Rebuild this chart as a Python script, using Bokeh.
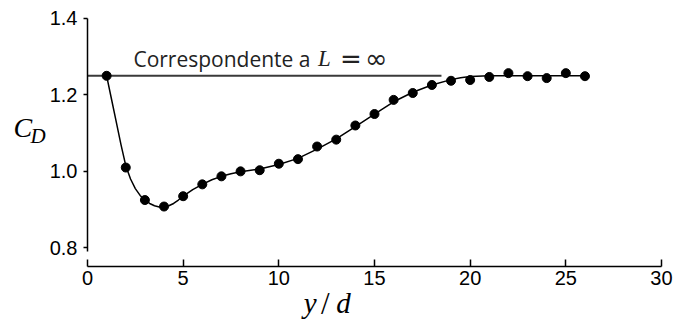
from bokeh.plotting import figure
from bokeh.models import Range1d, Label, FixedTicker, PrintfTickFormatter
from bokeh.embed import file_html
from bokeh.resources import INLINE

# measured points (y/d, C_D)
pts_x = [1, 2, 3, 4, 5, 6, 7, 8, 9, 10, 11, 12, 13, 14, 15, 16, 17, 18, 19, 20, 21, 22, 23, 24, 25, 26]
pts_y = [1.25, 1.01, 0.925, 0.908, 0.935, 0.966, 0.987, 1.0, 1.003, 1.02, 1.032, 1.065, 1.083, 1.12, 1.15,
         1.187, 1.205, 1.226, 1.237, 1.239, 1.247, 1.257, 1.249, 1.244, 1.257, 1.249]

# faired curve
curve_x = [1, 1.25, 1.5, 1.75, 2, 2.25, 2.5, 2.75, 3, 3.25, 3.5, 3.75, 4, 4.25, 4.5, 4.75, 5, 5.5, 6, 6.5, 7, 7.5, 8,
           9, 10, 11, 12, 13, 14, 15, 16, 17, 18, 19, 19.5, 20, 21, 22, 23, 24, 25, 26]
curve_y = [1.25, 1.19, 1.13, 1.07, 1.015, 0.98, 0.955, 0.937, 0.925, 0.916, 0.91, 0.907, 0.907, 0.91, 0.916, 0.925,
           0.935, 0.952, 0.966, 0.978, 0.987, 0.994, 0.999, 1.006, 1.018, 1.034, 1.058, 1.085, 1.117, 1.15, 1.182,
           1.207, 1.226, 1.24, 1.245, 1.248, 1.25, 1.25, 1.25, 1.25, 1.25, 1.25]

# reference level (L = infinity)
ref_x = [0, 18.5]
ref_y = [1.25, 1.25]

x_ticks = [0, 5, 10, 15, 20, 25, 30]
y_ticks = [0.8, 1.0, 1.2, 1.4]

# the frame fills the whole canvas; axes are pinned at fixed data locations
p = figure(width=679, height=323, output_backend="svg", toolbar_location=None,
           x_range=Range1d(-4.547, 30.941), y_range=Range1d(0.602, 1.447),
           min_border_left=0, min_border_right=0, min_border_top=0, min_border_bottom=0)
p.outline_line_color = None
p.grid.visible = False
p.background_fill_color = "white"
p.border_fill_color = "white"

p.line(ref_x, ref_y, line_color="#3a3a3a", line_width=2)
p.line(curve_x, curve_y, line_color="black", line_width=1.5)
p.scatter(pts_x, pts_y, size=9, color="black")

xa = p.xaxis[0]
xa.fixed_location = 0.75
xa.bounds = (0, 30)
xa.ticker = FixedTicker(ticks=x_ticks)
xa.major_tick_in = 7
xa.major_tick_out = 0
xa.minor_tick_line_color = None
xa.axis_line_width = 1.5
xa.major_tick_line_width = 1.5
xa.major_label_text_font = "Liberation Sans"
xa.major_label_text_font_size = "20px"
xa.major_label_text_color = "black"
xa.major_label_standoff = 4

ya = p.yaxis[0]
ya.fixed_location = 0
ya.bounds = (0.79, 1.4)
ya.ticker = FixedTicker(ticks=y_ticks)
ya.formatter = PrintfTickFormatter(format="%.1f")
ya.major_tick_in = 0
ya.major_tick_out = 4
ya.minor_tick_line_color = None
ya.axis_line_width = 1.5
ya.major_tick_line_width = 1.5
ya.major_label_text_font = "Liberation Sans"
ya.major_label_text_font_size = "20px"
ya.major_label_text_color = "black"
ya.major_label_standoff = 6

# annotation text
ink = "#222222"
ty = 1.295
p.add_layout(Label(x=2.4, y=ty, text="Correspondente a", text_font="Open Sans",
                   text_font_size="21px", text_color=ink, text_baseline="alphabetic"))
p.add_layout(Label(x=12.05, y=ty, text="L", text_font="Liberation Serif", text_font_style="italic",
                   text_font_size="23px", text_color=ink, text_baseline="alphabetic"))
p.add_layout(Label(x=13.2, y=ty, text="=", text_font="DejaVu Sans",
                   text_font_size="26px", text_color=ink, text_baseline="alphabetic"))
p.add_layout(Label(x=14.5, y=ty, text="∞", text_font="DejaVu Sans",
                   text_font_size="27px", text_color=ink, text_baseline="alphabetic"))

# axis titles
p.add_layout(Label(x=-3.87, y=1.114, text="C", text_font="Liberation Serif", text_font_style="italic",
                   text_font_size="28px", text_color="black", text_baseline="alphabetic"))
p.add_layout(Label(x=-2.98, y=1.093, text="D", text_font="Liberation Serif", text_font_style="italic",
                   text_font_size="21px", text_color="black", text_baseline="alphabetic"))
p.add_layout(Label(x=11.3, y=0.655, text="y", text_font="Liberation Serif", text_font_style="italic",
                   text_font_size="29px", text_color="black", text_baseline="alphabetic"))
p.add_layout(Label(x=12.2, y=0.655, text="/", text_font="Liberation Serif",
                   text_font_size="31px", text_color="black", text_baseline="alphabetic"))
p.add_layout(Label(x=13.0, y=0.655, text="d", text_font="Liberation Serif", text_font_style="italic",
                   text_font_size="29px", text_color="black", text_baseline="alphabetic"))

open("out.html", "w").write(file_html(p, INLINE))
